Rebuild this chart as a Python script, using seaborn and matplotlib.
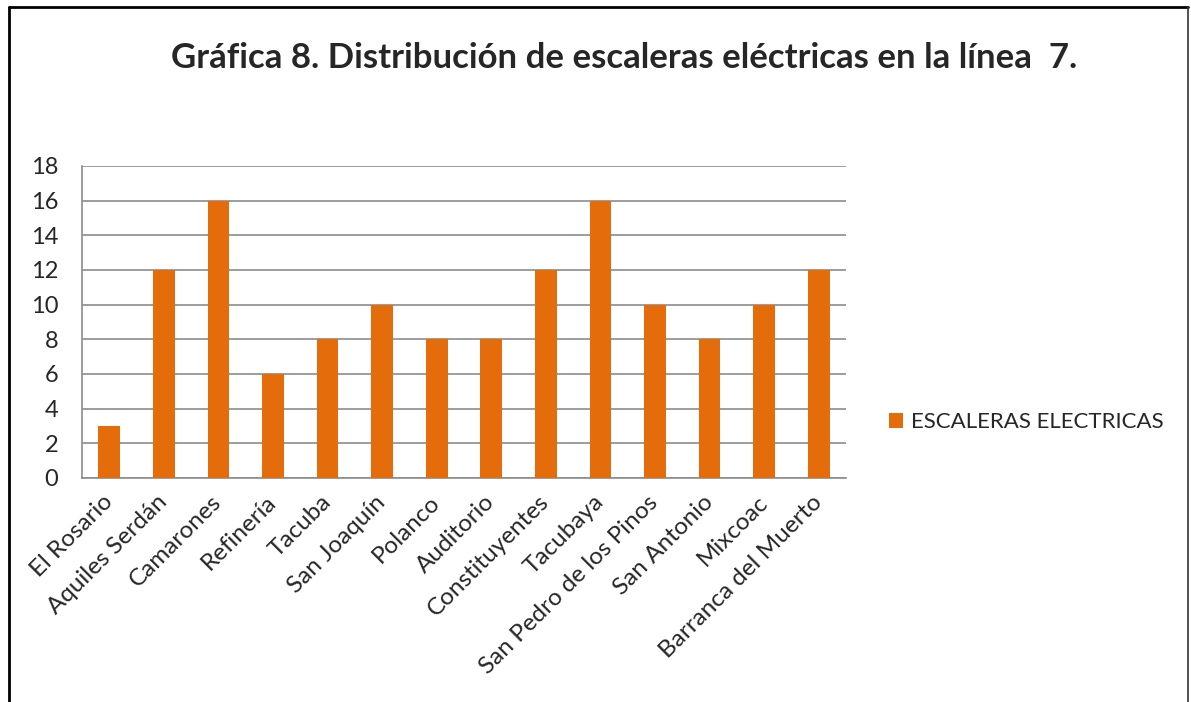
import matplotlib
matplotlib.use("Agg")
import matplotlib.pyplot as plt
import seaborn as sns
import pandas as pd
from matplotlib.lines import Line2D
from matplotlib.patches import Patch

estaciones = ["El Rosario", "Aquiles Serdán", "Camarones", "Refinería", "Tacuba",
              "San Joaquín", "Polanco", "Auditorio", "Constituyentes", "Tacubaya",
              "San Pedro de los Pinos", "San Antonio", "Mixcoac", "Barranca del Muerto"]
escaleras = [3, 12, 16, 6, 8, 10, 8, 8, 12, 16, 10, 8, 10, 12]
serie = "ESCALERAS ELECTRICAS"
titulo = "Gráfica 8. Distribución de escaleras eléctricas en la línea  7."
yticks = [0, 2, 4, 6, 8, 10, 12, 14, 16, 18]

sns.set_style("white")
plt.rcParams['font.family'] = ['Lato', 'DejaVu Sans']

df = pd.DataFrame({"estacion": estaciones, "valor": escaleras})

W, H = 1191, 702
fig = plt.figure(figsize=(W / 100, H / 100), dpi=100)
ax = fig.add_axes([82 / W, 1 - 478 / H, (846 - 82) / W, (478 - 166) / H])

orange = "#E46C0A"
sns.barplot(data=df, x="estacion", y="valor", color=orange, width=0.4,
            saturation=1, linewidth=0, ax=ax, zorder=3)

ax.set_ylim(0, 18)
ax.set_yticks(yticks)
ax.set_yticklabels([str(v) for v in yticks], fontsize=17)
ax.set_xlim(-0.5, len(estaciones) - 0.5)
ax.set_xlabel("")
ax.set_ylabel("")
ax.yaxis.grid(True, color="#8c8c8c", linewidth=1.2, zorder=0)
ax.xaxis.grid(False)
for s in ["top", "right"]:
    ax.spines[s].set_visible(False)
for s in ["left", "bottom"]:
    ax.spines[s].set_color("#8c8c8c")
    ax.spines[s].set_linewidth(1.2)
ax.tick_params(axis="y", length=0, pad=17)
ax.tick_params(axis="x", length=0, pad=15)
ax.set_xticks(range(len(estaciones)))
ax.set_xticklabels(estaciones, rotation=45, ha="right", va="center",
                   rotation_mode="anchor", fontsize=17.5)

fig.suptitle(titulo, x=624 / W, y=1 - 58 / H, va="center", ha="center",
             fontsize=25, fontweight="bold")

handles = [Patch(facecolor=orange, edgecolor="none", label=serie)]
fig.legend(handles=handles, loc="center left", bbox_to_anchor=(880 / W, 1 - 422 / H),
           frameon=False, fontsize=16, handlelength=0.65, handleheight=0.65,
           handletextpad=0.35, borderaxespad=0)

# outer border (left, top, right)
lw = 2
fig.add_artist(Line2D([9 / W, 9 / W], [0, 1 - 7 / H], transform=fig.transFigure,
                      color="black", linewidth=lw))
fig.add_artist(Line2D([9 / W, 1188 / W], [1 - 7 / H, 1 - 7 / H], transform=fig.transFigure,
                      color="black", linewidth=lw))
fig.add_artist(Line2D([1188 / W, 1188 / W], [0, 1 - 7 / H], transform=fig.transFigure,
                      color="#333333", linewidth=1.2))

fig.savefig("out.png", dpi=100)
